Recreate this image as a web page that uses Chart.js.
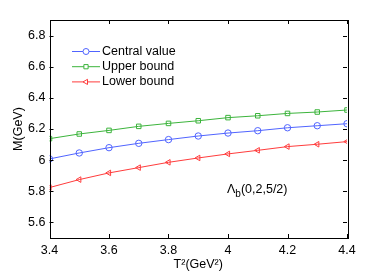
<!DOCTYPE html>
<html>
<head>
<meta charset="utf-8">
<script src="https://cdn.jsdelivr.net/npm/chart.js@4"></script>
<style>
  body { margin: 0; background: #fff; }
  #wrap { width: 382px; height: 273px; }
</style>
</head>
<body>
<div id="wrap"><canvas id="grafico"></canvas></div>
<script>
// datos
const valoresT2 = [3.4, 3.5, 3.6, 3.7, 3.8, 3.9, 4.0, 4.1, 4.2, 4.3, 4.4];
const valorCentral = [6.008, 6.046, 6.080, 6.108, 6.132, 6.155, 6.174, 6.189, 6.208, 6.221, 6.234];
const cotaSuperior = [6.138, 6.168, 6.191, 6.217, 6.236, 6.253, 6.273, 6.285, 6.300, 6.309, 6.322];
const cotaInferior = [5.824, 5.875, 5.918, 5.952, 5.986, 6.014, 6.040, 6.063, 6.087, 6.102, 6.119];
const ticksX = [3.4, 3.6, 3.8, 4.0, 4.2, 4.4];
const ticksY = [5.6, 5.8, 6.0, 6.2, 6.4, 6.6, 6.8];
const etiquetas = ["Central value", "Upper bound", "Lower bound"];

const fuente = "Liberation Sans, Arial, Helvetica, sans-serif";
const azul = "rgb(80,100,255)";
const verde = "rgb(60,180,60)";
const rojo = "rgb(255,60,60)";

function puntos(valores) {
  return valores.map((v, i) => ({ x: valoresT2[i], y: v }));
}

function serie(label, valores, color, estilo, rot) {
  return {
    label: label,
    data: puntos(valores),
    borderColor: color,
    backgroundColor: "rgba(0,0,0,0)",
    borderWidth: 1,
    pointStyle: estilo,
    rotation: rot,
    pointRadius: 3.2,
    pointBorderWidth: 1,
    pointBackgroundColor: "rgba(0,0,0,0)",
    tension: 0,
  };
}

// caja, marcas hacia adentro, leyenda y anotacion
const extras = {
  id: "extras",
  afterDatasetsDraw(chart) {
    const ctx = chart.ctx;
    const a = chart.chartArea;
    const sx = chart.scales.x;
    const sy = chart.scales.y;
    ctx.save();
    ctx.strokeStyle = "#000";
    ctx.lineWidth = 1;
    ctx.beginPath();
    ticksX.forEach((t) => {
      const px = Math.round(sx.getPixelForValue(t)) + 0.5;
      ctx.moveTo(px, a.bottom); ctx.lineTo(px, a.bottom - 4);
      ctx.moveTo(px, a.top); ctx.lineTo(px, a.top + 4);
    });
    ticksY.forEach((t) => {
      const py = Math.round(sy.getPixelForValue(t)) + 0.5;
      ctx.moveTo(a.left, py); ctx.lineTo(a.left + 4, py);
      ctx.moveTo(a.right, py); ctx.lineTo(a.right - 4, py);
    });
    ctx.stroke();
    ctx.strokeRect(Math.round(a.left) + 0.5, Math.round(a.top) + 0.5,
      Math.round(a.right - a.left), Math.round(a.bottom - a.top));

    // leyenda
    ctx.font = "12.5px " + fuente;
    ctx.textBaseline = "middle";
    chart.data.datasets.forEach((ds, i) => {
      const y = 51.5 + i * 15.2;
      ctx.strokeStyle = ds.borderColor;
      ctx.beginPath();
      ctx.moveTo(72, y); ctx.lineTo(100, y);
      ctx.stroke();
      ctx.fillStyle = "#fff";
      Chart.helpers.drawPoint(ctx, {
        pointStyle: ds.pointStyle, rotation: ds.rotation,
        radius: 3, borderWidth: 1,
      }, 86, y);
      ctx.fillStyle = "#000";
      ctx.fillText(ds.label, 102, y);
    });

    // anotacion
    ctx.fillStyle = "#000";
    ctx.textBaseline = "alphabetic";
    ctx.font = "12.5px " + fuente;
    ctx.fillText("\u039B", 227, 193);
    const wL = ctx.measureText("\u039B").width;
    ctx.font = "10px " + fuente;
    ctx.fillText("b", 227 + wL, 197);
    const wb = ctx.measureText("b").width;
    ctx.font = "12.5px " + fuente;
    ctx.fillText("(0,2,5/2)", 227 + wL + wb, 193);
    ctx.restore();
  },
};

new Chart(document.getElementById("grafico"), {
  type: "line",
  data: {
    datasets: [
      serie(etiquetas[0], valorCentral, azul, "circle", 0),
      serie(etiquetas[1], cotaSuperior, verde, "rect", 0),
      serie(etiquetas[2], cotaInferior, rojo, "triangle", -90),
    ],
  },
  options: {
    responsive: true,
    maintainAspectRatio: false,
    animation: false,
    layout: { padding: { left: 0, right: 35, top: 20, bottom: 0 } },
    plugins: { legend: { display: false }, tooltip: { enabled: false } },
    scales: {
      x: {
        type: "linear",
        min: 3.4,
        max: 4.4,
        afterBuildTicks: (s) => { s.ticks = ticksX.map((v) => ({ value: v })); },
        afterFit: (s) => { s.height = 35; },
        grid: { display: false, drawTicks: false },
        border: { display: false },
        ticks: {
          padding: 5,
          color: "#000",
          font: { family: fuente, size: 12.5 },
          callback: (v) => String(Math.round(v * 10) / 10),
        },
        title: {
          display: true,
          text: "T\u00B2(GeV\u00B2)",
          color: "#000",
          font: { family: fuente, size: 12.5 },
          padding: { top: 0, bottom: 1 },
        },
      },
      y: {
        type: "linear",
        min: 5.5,
        max: 6.9,
        afterBuildTicks: (s) => { s.ticks = ticksY.map((v) => ({ value: v })); },
        afterFit: (s) => { s.width = 49.5; },
        grid: { display: false, drawTicks: false },
        border: { display: false },
        ticks: {
          padding: 4,
          color: "#000",
          font: { family: fuente, size: 12.5 },
          callback: (v) => String(Math.round(v * 10) / 10),
        },
        title: {
          display: true,
          text: "M(GeV)",
          color: "#000",
          font: { family: fuente, size: 12.5 },
          padding: { top: 11, bottom: 0 },
        },
      },
    },
  },
  plugins: [extras],
});
</script>
</body>
</html>
